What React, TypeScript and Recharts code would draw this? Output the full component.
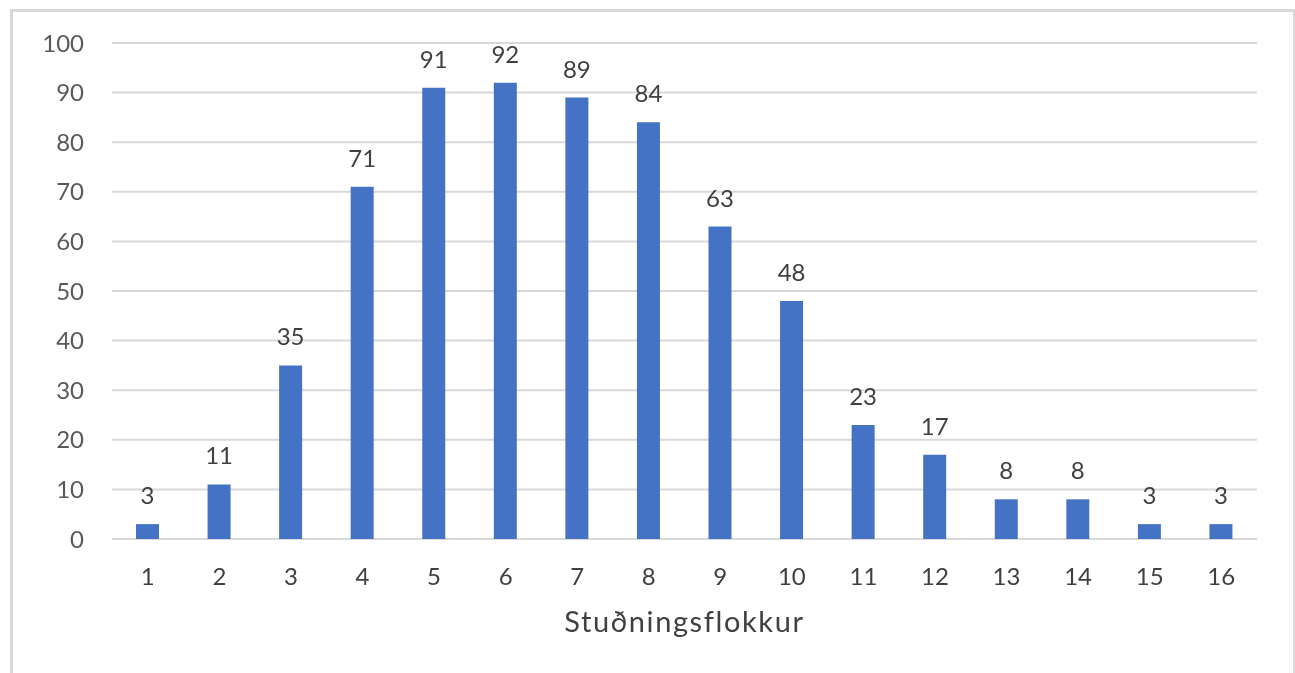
import { BarChart, Bar, XAxis, YAxis, CartesianGrid, LabelList } from "recharts";

const categories = ["1", "2", "3", "4", "5", "6", "7", "8", "9", "10", "11", "12", "13", "14", "15", "16"];
const counts = [3, 11, 35, 71, 91, 92, 89, 84, 63, 48, 23, 17, 8, 8, 3, 3];
const yTicks = [0, 10, 20, 30, 40, 50, 60, 70, 80, 90, 100];
const axisTitle = "Stuðningsflokkur";

const data = categories.map((name, i) => ({ name, value: counts[i] }));

const FONT = "Lato, 'Open Sans', sans-serif";

export default function App() {
  return (
    <div style={{ position: "relative", width: 1279, height: 657, fontFamily: FONT }}>
      {/* light frame round the chart, open at the bottom */}
      <div
        style={{
          position: "fixed",
          left: 10,
          top: 9,
          right: 0,
          bottom: -20,
          borderTop: "3px solid #d9d9d9",
          borderLeft: "3px solid #d9d9d9",
          borderRight: "2px solid #d9d9d9",
          boxSizing: "border-box",
        }}
      />
      <div style={{ position: "absolute", left: 0, top: 0 }}>
        <BarChart width={1279} height={657} data={data} margin={{ top: 35, right: 30, bottom: 26, left: 0 }}>
          <CartesianGrid vertical={false} stroke="#d9d9d9" strokeWidth={2} />
          <XAxis
            dataKey="name"
            axisLine={false}
            tickLine={false}
            tickSize={0}
            tickMargin={29}
            height={100}
            tick={{ fill: "#404040", fontSize: 24, fontFamily: FONT }}
            interval={0}
            label={{
              value: axisTitle,
              position: "insideBottom",
              offset: 7,
              fill: "#404040",
              fontSize: 29,
              letterSpacing: 1.6,
              fontFamily: FONT,
            }}
          />
          <YAxis
            domain={[0, 100]}
            ticks={yTicks}
            axisLine={false}
            tickLine={false}
            tickSize={0}
            tickMargin={28}
            width={104}
            tick={{ fill: "#595959", fontSize: 24, fontFamily: FONT }}
          />
          <Bar dataKey="value" fill="#4472c4" barSize={23} isAnimationActive={false}>
            <LabelList dataKey="value" position="top" offset={20} fill="#404040" fontSize={24} fontFamily={FONT} />
          </Bar>
        </BarChart>
      </div>
    </div>
  );
}
